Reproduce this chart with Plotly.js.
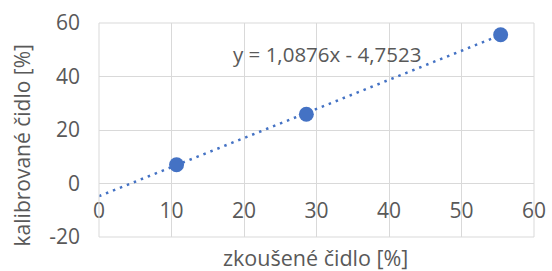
<!DOCTYPE html>
<html><head><meta charset="utf-8">
<script src="https://cdn.plot.ly/plotly-3.0.1.min.js"></script>
<style>html,body{margin:0;padding:0;background:#fff;}</style>
</head><body><div id="chart" style="width:552px;height:271px;"></div>
<script>
const xVals = [10.7, 28.6, 55.4];
const yVals = [7.0, 25.9, 55.6];
const slope = 1.0876;
const intercept = -4.7523;
const equationText = 'y = 1,0876x - 4,7523';
const xTitle = 'zkoušené čidlo [%]';
const yTitle = 'kalibrované čidlo [%]';
const xTicks = [0, 10, 20, 30, 40, 50, 60];
const yTicks = [-20, 0, 20, 40, 60];

const trendX = [0, Math.max(...xVals)];
const trendY = trendX.map(x => slope * x + intercept);

const font = 'Open Sans, sans-serif';
const grey = '#595959';
const blue = '#4472C4';

const data = [
  {x: trendX, y: trendY, mode: 'lines', type: 'scatter',
   line: {color: blue, width: 2.5, dash: '2.5px,5px'}, hoverinfo: 'skip'},
  {x: xVals, y: yVals, mode: 'markers', type: 'scatter',
   marker: {color: blue, size: 15}}
];

const layout = {
  width: 552, height: 271,
  margin: {l: 99, r: 18, t: 23, b: 34},
  showlegend: false,
  paper_bgcolor: '#fff', plot_bgcolor: '#fff',
  font: {family: font, color: grey, size: 21},
  xaxis: {range: [0, 60], tickvals: xTicks, ticktext: xTicks.map(String),
    anchor: 'free', position: 0.25, showline: false, zeroline: false,
    showgrid: true, gridcolor: '#d9d9d9', gridwidth: 1,
    ticks: '', ticklabelstandoff: 12, tickfont: {family: font, size: 21, color: grey}},
  yaxis: {range: [-20, 60], tickvals: yTicks, ticktext: yTicks.map(String),
    showline: false, zeroline: false, showgrid: true, gridcolor: '#d9d9d9', gridwidth: 1,
    ticks: '', ticklabelstandoff: 18, tickfont: {family: font, size: 21, color: grey}},
  shapes: [
    {type: 'rect', xref: 'paper', yref: 'paper', x0: 0, x1: 1, y0: 0, y1: 1,
     line: {color: '#d9d9d9', width: 1}}
  ],
  annotations: [
    {text: equationText, xref: 'x', yref: 'y', x: 31.4, y: 48.5, showarrow: false,
     font: {family: font, size: 20.5, color: grey}},
    {text: xTitle, xref: 'paper', yref: 'paper', x: 0.497, y: -0.094, yanchor: 'middle',
     showarrow: false, font: {family: font, size: 21.5, color: grey}},
    {text: yTitle, xref: 'paper', yref: 'paper', x: -0.176, y: 0.43, textangle: -90,
     xanchor: 'center', yanchor: 'middle', showarrow: false,
     font: {family: font, size: 21, color: grey}}
  ]
};

Plotly.newPlot('chart', data, layout, {displayModeBar: false, staticPlot: true});
</script></body></html>
